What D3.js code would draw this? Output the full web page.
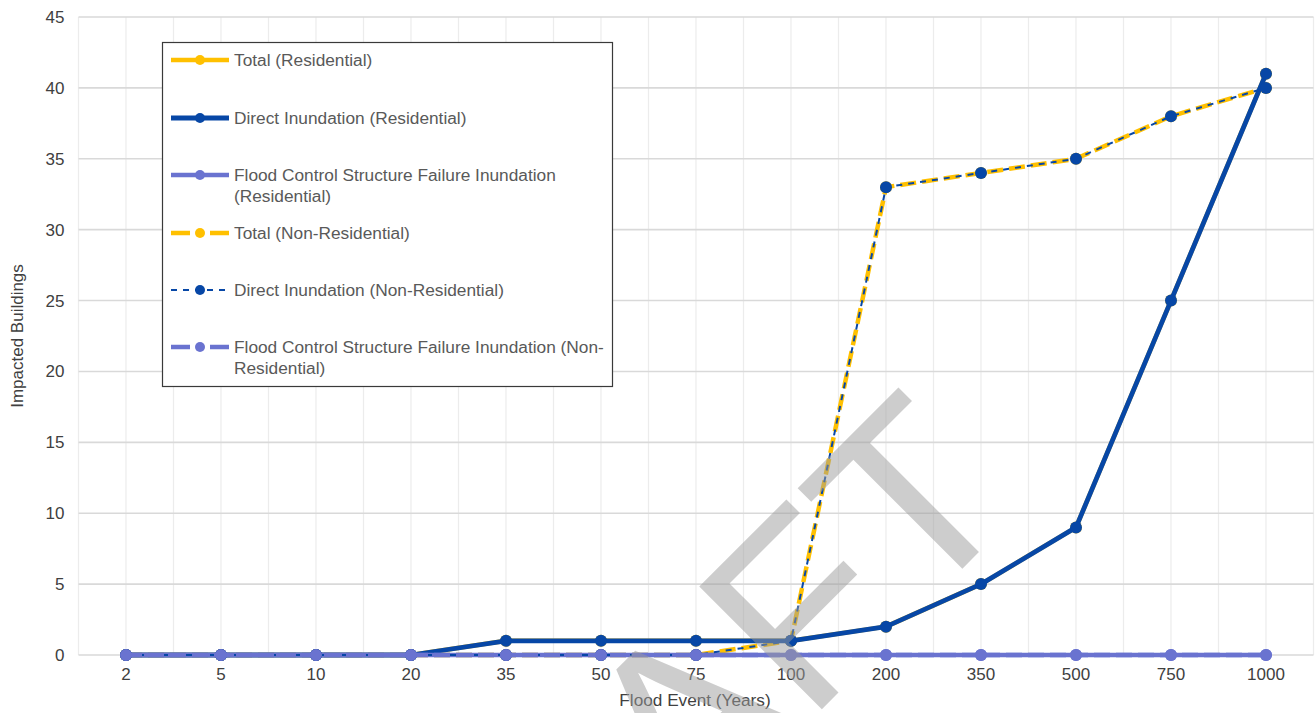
<!DOCTYPE html>
<html>
<head>
<meta charset="utf-8">
<script src="https://cdn.jsdelivr.net/npm/d3@7"></script>
<style>
  html, body { margin: 0; padding: 0; background: #ffffff; }
  svg { display: block; font-family: "Liberation Sans", Arial, sans-serif; }
</style>
</head>
<body>
<svg id="chart" width="1315" height="713"></svg>
<script>
// Return periods of the modelled flood events
const categories = ["2", "5", "10", "20", "35", "50", "75", "100", "200", "350", "500", "750", "1000"];

// Impacted building counts per event
const totalResidential       = [0, 0, 0, 0, 1, 1, 1, 1, 2, 5, 9, 25, 41];
const directResidential      = [0, 0, 0, 0, 1, 1, 1, 1, 2, 5, 9, 25, 41];
const fcsFailureResidential  = [0, 0, 0, 0, 0, 0, 0, 0, 0, 0, 0, 0, 0];
const totalNonResidential    = [0, 0, 0, 0, 0, 0, 0, 1, 33, 34, 35, 38, 40];
const directNonResidential   = [0, 0, 0, 0, 0, 0, 0, 1, 33, 34, 35, 38, 40];
const fcsFailureNonResidential = [0, 0, 0, 0, 0, 0, 0, 0, 0, 0, 0, 0, 0];

const yTicks = [0, 5, 10, 15, 20, 25, 30, 35, 40, 45];

const GOLD = "#FFC000", NAVY = "#0747A6", PERI = "#6A73D0";

// z sets the stacking order of the series on the plot
const series = [
  { name: "Total (Residential)", values: totalResidential, color: GOLD, width: 4.5, dash: null, legendDash: null, r: 6, z: 0 },
  { name: "Direct Inundation (Residential)", values: directResidential, color: NAVY, width: 4.8, dash: null, legendDash: null, r: 6, z: 2 },
  { name: ["Flood Control Structure Failure Inundation", "(Residential)"], values: fcsFailureResidential, color: PERI, width: 4.5, dash: null, legendDash: null, r: 6, z: 3 },
  { name: "Total (Non-Residential)", values: totalNonResidential, color: GOLD, width: 4.5, dash: "16,6", legendDash: "19,20,19", r: 6, z: 1 },
  { name: "Direct Inundation (Non-Residential)", values: directNonResidential, color: NAVY, width: 2, dash: "6,6", legendDash: "6,6", r: 6, z: 4 },
  { name: ["Flood Control Structure Failure Inundation (Non-", "Residential)"], values: fcsFailureNonResidential, color: PERI, width: 4.5, dash: "16,6", legendDash: "19,20,19", r: 6, z: 5 }
];

const svg = d3.select("#chart");
const plot = { left: 78.5, right: 1313.5, top: 17, bottom: 655 };

const x = d3.scaleBand().domain(categories).range([plot.left, plot.right]).paddingInner(0).paddingOuter(0);
const cx = c => x(c) + x.bandwidth() / 2;
const y = d3.scaleLinear().domain([0, 45]).range([plot.bottom, plot.top]);

// Vertical grid: band edges and band centres
const vPos = [];
categories.forEach(c => { vPos.push(x(c)); vPos.push(cx(c)); });
vPos.push(plot.right);
svg.append("g").selectAll("line").data(vPos).join("line")
  .attr("x1", d => d).attr("x2", d => d)
  .attr("y1", plot.top).attr("y2", plot.bottom)
  .attr("stroke", "#ececec").attr("stroke-width", 1.2);

// Horizontal grid
svg.append("g").selectAll("line").data(yTicks).join("line")
  .attr("x1", plot.left).attr("x2", plot.right)
  .attr("y1", d => y(d)).attr("y2", d => y(d))
  .attr("stroke", "#d9d9d9").attr("stroke-width", 1.6);

// Y axis labels
const yAxis = svg.append("g").attr("transform", `translate(${plot.left},0)`)
  .call(d3.axisLeft(y).tickValues(yTicks).tickSize(0).tickPadding(14));
yAxis.select(".domain").remove();
yAxis.selectAll("text").attr("font-size", 17).attr("fill", "#404040")
  .attr("font-family", "Liberation Sans, Arial, sans-serif");

// X axis labels
const xAxis = svg.append("g").attr("transform", `translate(0,${plot.bottom})`)
  .call(d3.axisBottom(x).tickSize(0).tickPadding(13));
xAxis.select(".domain").remove();
xAxis.selectAll("text").attr("font-size", 17).attr("fill", "#404040")
  .attr("font-family", "Liberation Sans, Arial, sans-serif");

// Axis titles
svg.append("text").attr("x", 695).attr("y", 706).attr("text-anchor", "middle")
  .attr("font-size", 17.2).attr("fill", "#404040").text("Flood Event (Years)");
svg.append("text").attr("transform", "translate(23,336) rotate(-90)").attr("text-anchor", "middle")
  .attr("font-size", 17).attr("fill", "#404040").text("Impacted Buildings");

// Series lines and markers
const line = d3.line().x((d, i) => cx(categories[i])).y(d => y(d));
const ordered = series.slice().sort((a, b) => a.z - b.z);
ordered.forEach(s => {
  const g = svg.append("g");
  g.append("path").attr("d", line(s.values))
    .attr("fill", "none").attr("stroke", s.color).attr("stroke-width", s.width)
    .attr("stroke-dasharray", s.dash).attr("stroke-linejoin", "round");
  g.selectAll("circle").data(s.values).join("circle")
    .attr("cx", (d, i) => cx(categories[i])).attr("cy", d => y(d))
    .attr("r", s.r).attr("fill", s.color);
});

// Legend
const legend = svg.append("g");
legend.append("rect").attr("x", 162.5).attr("y", 42.5).attr("width", 450).attr("height", 344)
  .attr("fill", "#ffffff").attr("stroke", "#3a3a3a").attr("stroke-width", 1.2);
const legendY = [60, 118, 175, 233, 290, 347];
series.forEach((s, i) => {
  const ly = legendY[i];
  legend.append("line").attr("x1", 171).attr("x2", 229).attr("y1", ly).attr("y2", ly)
    .attr("stroke", s.color).attr("stroke-width", s.width).attr("stroke-dasharray", s.legendDash);
  legend.append("circle").attr("cx", 200).attr("cy", ly).attr("r", 5).attr("fill", s.color);
  const lines = Array.isArray(s.name) ? s.name : [s.name];
  const t = legend.append("text").attr("x", 234).attr("y", ly + 6)
    .attr("font-size", 17.3).attr("fill", "#595959");
  lines.forEach((ln, k) => {
    t.append("tspan").attr("x", 234).attr("dy", k === 0 ? 0 : 20.5).text(ln);
  });
});

// Watermark
svg.append("text").attr("transform", "translate(1025,506) rotate(-45)")
  .attr("text-anchor", "end").attr("font-size", 252)
  .attr("fill", "#9c9c9c").attr("fill-opacity", 0.5)
  .text("DRAFT");
</script>
</body>
</html>
